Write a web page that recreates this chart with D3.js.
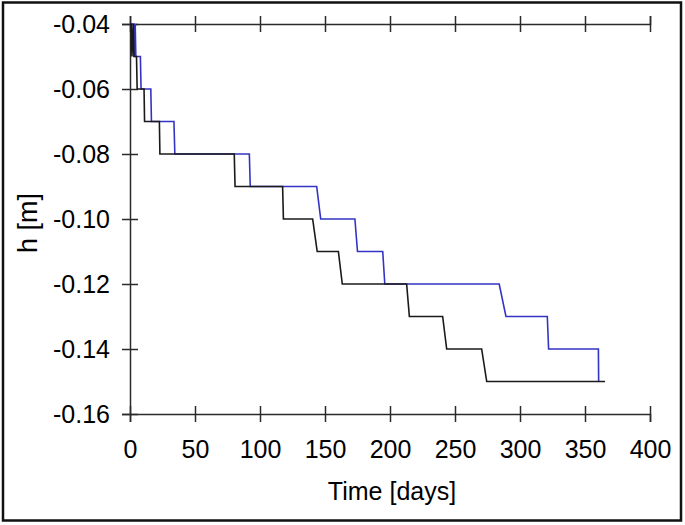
<!DOCTYPE html>
<html>
<head>
<meta charset="utf-8">
<script src="https://cdn.jsdelivr.net/npm/d3@7"></script>
<style>
  html, body { margin: 0; padding: 0; background: #fff; }
  svg { display: block; }
  text { font-family: "Liberation Sans", Arial, sans-serif; fill: #000; }
</style>
</head>
<body>
<div id="chart"></div>
<script>
// ---- data ----
const xTicks = [0, 50, 100, 150, 200, 250, 300, 350, 400];
const yTicks = [-0.04, -0.06, -0.08, -0.10, -0.12, -0.14, -0.16];
const xLabel = "Time [days]";
const yLabel = "h [m]";

// black series: [day, h]
const blackSeries = [
  [0, -0.04], [1, -0.04], [1.5, -0.05], [2.5, -0.04], [3, -0.05],
  [5, -0.05], [5.5, -0.06], [10.8, -0.06], [11.2, -0.07], [22.6, -0.07],
  [23, -0.08], [80.2, -0.08], [80.8, -0.09], [117.4, -0.09], [118, -0.10],
  [140.5, -0.10], [144, -0.11], [160.3, -0.11], [163.3, -0.12], [212.8, -0.12],
  [214.9, -0.13], [240.5, -0.13], [243.6, -0.14], [270.5, -0.14], [274.4, -0.15],
  [365.4, -0.15]
];
// blue series: [day, h]
const blueSeries = [
  [0, -0.04], [3, -0.04], [3.5, -0.05], [4, -0.04], [4.5, -0.05],
  [8, -0.05], [8.5, -0.06], [16, -0.06], [16.5, -0.07], [33.8, -0.07],
  [34.5, -0.08], [91.8, -0.08], [92.5, -0.09], [143.6, -0.09], [146.7, -0.10],
  [173, -0.10], [175, -0.11], [194.4, -0.11], [196, -0.12], [284, -0.12],
  [289.2, -0.13], [321, -0.13], [322, -0.14], [360.3, -0.14], [360.5, -0.15]
];

// ---- layout ----
const W = 685, H = 525;
const plot = { left: 130, right: 650, top: 24, bottom: 414 };
const axisColor = "#2a2a2a";
const fontFam = "'Liberation Sans', Arial, sans-serif";

const svg = d3.select("#chart").append("svg")
  .attr("width", W).attr("height", H);

// outer frame
svg.append("rect")
  .attr("x", 3).attr("y", 2.5)
  .attr("width", 678).attr("height", 518)
  .attr("fill", "none").attr("stroke", "#111").attr("stroke-width", 2.5);

const x = d3.scaleLinear().domain([0, 400]).range([plot.left, plot.right]);
const y = d3.scaleLinear().domain([-0.16, -0.04]).range([plot.bottom, plot.top]);

const yFmt = d => d3.format(".2f")(d).replace("\u2212", "-");

// bottom axis
const gx = svg.append("g")
  .attr("transform", `translate(0,${plot.bottom})`)
  .call(d3.axisBottom(x).tickValues(xTicks).tickSize(8).tickFormat(d3.format("d")));
gx.select(".domain").attr("stroke", axisColor).attr("stroke-width", 1.5);
gx.selectAll(".tick line").attr("y1", -8).attr("y2", 8)
  .attr("stroke", axisColor).attr("stroke-width", 1.5);
gx.selectAll(".tick text").attr("y", 26).attr("dy", "0.71em")
  .style("font-size", "25px").style("font-family", fontFam)
  .attr("fill", "#000");

// top axis (ticks only)
const gt = svg.append("g")
  .attr("transform", `translate(0,${plot.top})`)
  .call(d3.axisTop(x).tickValues(xTicks).tickSize(8).tickFormat(""));
gt.select(".domain").attr("stroke", axisColor).attr("stroke-width", 1.5);
gt.selectAll(".tick line").attr("y1", 8).attr("y2", -8)
  .attr("stroke", axisColor).attr("stroke-width", 1.5);

// left axis
const gy = svg.append("g")
  .attr("transform", `translate(${plot.left},0)`)
  .call(d3.axisLeft(y).tickValues(yTicks).tickSize(8).tickFormat(yFmt));
gy.select(".domain").attr("stroke", axisColor).attr("stroke-width", 1.5);
gy.selectAll(".tick line").attr("x1", 8).attr("x2", -8)
  .attr("stroke", axisColor).attr("stroke-width", 1.5);
gy.selectAll(".tick text").attr("x", -20).attr("dy", "0.35em")
  .style("font-size", "25px").style("font-family", fontFam)
  .attr("fill", "#000");

// series lines
const line = d3.line().x(d => x(d[0])).y(d => y(d[1]));
svg.append("path").datum(blueSeries)
  .attr("d", line).attr("fill", "none")
  .attr("stroke", "#3434c4").attr("stroke-width", 1.6);
svg.append("path").datum(blackSeries)
  .attr("d", line).attr("fill", "none")
  .attr("stroke", "#1a1a1a").attr("stroke-width", 1.6);

// axis titles
svg.append("text")
  .attr("x", (plot.left + plot.right) / 2 + 2).attr("y", 500)
  .attr("text-anchor", "middle")
  .style("font-size", "25px")
  .text(xLabel);

svg.append("text")
  .attr("transform", `translate(37,${(plot.top + plot.bottom) / 2 + 4}) rotate(-90)`)
  .attr("text-anchor", "middle")
  .style("font-size", "27px")
  .text(yLabel);
</script>
</body>
</html>
